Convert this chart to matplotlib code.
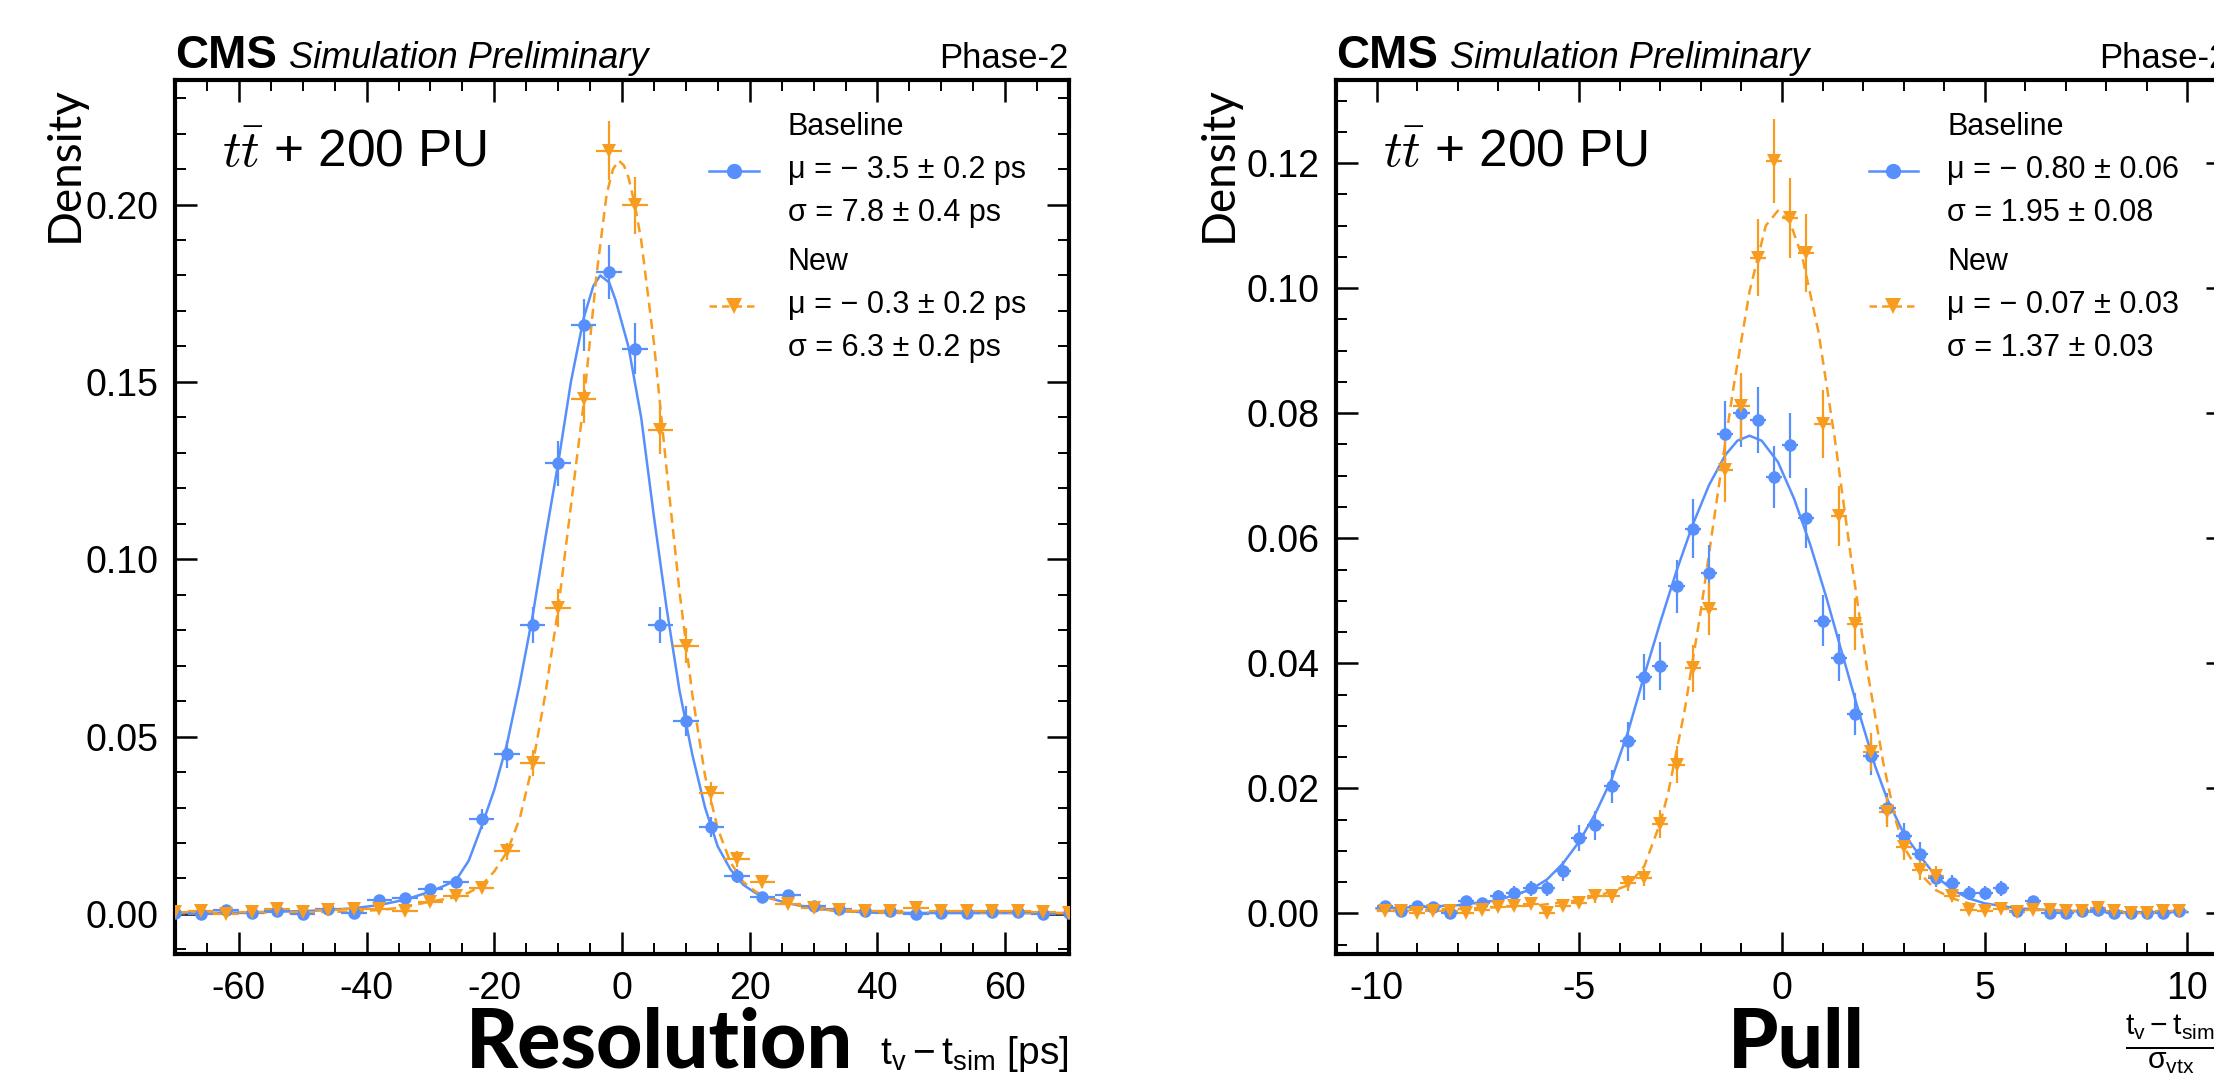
#Resolution and pull of vertex time, Baseline vs New (ttbar + 200 PU)
import numpy as np
import matplotlib
matplotlib.use("Agg")
from matplotlib import pyplot as plt
from matplotlib.lines import Line2D
from matplotlib.ticker import MultipleLocator, FormatStrFormatter

plt.rcParams['font.family'] = ['Liberation Sans', 'DejaVu Sans']
plt.rcParams['mathtext.fontset'] = 'custom'
plt.rcParams['mathtext.rm'] = 'Liberation Sans'
plt.rcParams['mathtext.it'] = 'Liberation Sans:italic'
plt.rcParams['mathtext.bf'] = 'Liberation Sans:bold'
plt.rcParams['mathtext.sf'] = 'Liberation Sans'
plt.rcParams['axes.unicode_minus'] = False

BLUE = '#5790fc'
ORANGE = '#f89c20'

#---------------- data: resolution (bins of 4 ps) ----------------
res_bin_width = 4.0
res_x = np.arange(-70, 71, 4)
res_base = [0.0002, 0.0000, 0.0011, 0.0002, 0.0009, 0.0001, 0.0013, 0.0002, 0.0038, 0.0044,
            0.0070, 0.0091, 0.0268, 0.0450, 0.0815, 0.1270, 0.1660, 0.1810, 0.1594, 0.0815,
            0.0544, 0.0244, 0.0107, 0.0049, 0.0054, 0.0023, 0.0013, 0.0007, 0.0007, 0.0000,
            0.0002, 0.0002, 0.0004, 0.0004, 0.0000, 0.0002]
res_base_err = [0.0003, 0.0002, 0.0006, 0.0003, 0.0005, 0.0002, 0.0006, 0.0003, 0.0011, 0.0012,
                0.0015, 0.0017, 0.0029, 0.0038, 0.0051, 0.0064, 0.0073, 0.0077, 0.0072, 0.0051,
                0.0042, 0.0028, 0.0019, 0.0013, 0.0013, 0.0009, 0.0006, 0.0005, 0.0005, 0.0002,
                0.0003, 0.0003, 0.0004, 0.0004, 0.0002, 0.0003]
res_new = [0.0004, 0.0007, 0.0000, 0.0004, 0.0013, 0.0004, 0.0010, 0.0013, 0.0013, 0.0007,
           0.0035, 0.0050, 0.0074, 0.0176, 0.0425, 0.0862, 0.1453, 0.2152, 0.1998, 0.1365,
           0.0756, 0.0340, 0.0154, 0.0090, 0.0028, 0.0016, 0.0011, 0.0009, 0.0009, 0.0016,
           0.0009, 0.0009, 0.0009, 0.0009, 0.0004, 0.0003]
res_new_err = [0.0004, 0.0005, 0.0002, 0.0004, 0.0006, 0.0004, 0.0006, 0.0006, 0.0006, 0.0005,
               0.0011, 0.0013, 0.0015, 0.0024, 0.0037, 0.0053, 0.0069, 0.0084, 0.0080, 0.0067,
               0.0049, 0.0033, 0.0022, 0.0017, 0.0010, 0.0007, 0.0006, 0.0005, 0.0005, 0.0007,
               0.0005, 0.0005, 0.0005, 0.0005, 0.0004, 0.0003]

# fitted curves
res_fit_x_base = [-70, -60, -50, -46, -42, -38, -34, -30, -28, -26, -24, -22, -20, -18, -16, -14,
                  -12, -10, -8, -6, -4.5, -3.4, -2, -1, 1, 3, 5, 7, 9, 11, 13, 15, 17, 19, 21, 23,
                  26, 30, 34, 40, 70]
res_fit_y_base = [0.0002, 0.0004, 0.0008, 0.0011, 0.0016, 0.0025, 0.0040, 0.0063, 0.0078, 0.0095,
                  0.0150, 0.0246, 0.0350, 0.0480, 0.0650, 0.0840, 0.1060, 0.1270, 0.1500, 0.1680,
                  0.1770, 0.1800, 0.1780, 0.1730, 0.1600, 0.1400, 0.1120, 0.0860, 0.0630, 0.0450,
                  0.0300, 0.0190, 0.0125, 0.0082, 0.0058, 0.0045, 0.0030, 0.0016, 0.0008, 0.0003,
                  0.0002]
res_fit_x_new = [-70, -50, -42, -38, -34, -30, -26, -24, -22, -20, -18, -16, -14, -12, -10, -8,
                 -6, -4, -2.4, -1.4, -0.5, 0.3, 1, 2, 3, 5, 7, 9, 11, 13, 15, 17, 19, 21, 23, 26,
                 30, 34, 40, 70]
res_fit_y_new = [0.0002, 0.0004, 0.0007, 0.0011, 0.0019, 0.0035, 0.0047, 0.0060, 0.0080, 0.0120,
                 0.0175, 0.0270, 0.0420, 0.0620, 0.0860, 0.1150, 0.1440, 0.1800, 0.2030, 0.2100,
                 0.2124, 0.2110, 0.2077, 0.2000, 0.1900, 0.1610, 0.1250, 0.0910, 0.0620, 0.0390,
                 0.0240, 0.0145, 0.0090, 0.0062, 0.0046, 0.0030, 0.0014, 0.0008, 0.0004, 0.0002]

#---------------- data: pull (bins of 0.4) ----------------
pull_bin_width = 0.4
pull_x = np.round(np.arange(-9.8, 9.81, 0.4), 1)
pull_base = [0.0011, 0.0003, 0.0012, 0.0010, 0.0000, 0.0020, 0.0017, 0.0027, 0.0032, 0.0040,
             0.0040, 0.0067, 0.0121, 0.0141, 0.0203, 0.0275, 0.0378, 0.0396, 0.0523, 0.0615,
             0.0545, 0.0766, 0.0800, 0.0789, 0.0698, 0.0749, 0.0632, 0.0468, 0.0409, 0.0319,
             0.0251, 0.0168, 0.0123, 0.0095, 0.0056, 0.0048, 0.0033, 0.0033, 0.0040, 0.0003,
             0.0019, 0.0001, 0.0000, 0.0003, 0.0005, 0.0000, 0.0000, 0.0000, 0.0000, 0.0003]
pull_base_err = [0.0006, 0.0003, 0.0007, 0.0006, 0.0002, 0.0008, 0.0008, 0.0010, 0.0011, 0.0012,
                 0.0012, 0.0016, 0.0021, 0.0023, 0.0027, 0.0031, 0.0037, 0.0038, 0.0043, 0.0047,
                 0.0044, 0.0053, 0.0054, 0.0053, 0.0050, 0.0052, 0.0048, 0.0041, 0.0038, 0.0034,
                 0.0030, 0.0025, 0.0021, 0.0019, 0.0014, 0.0013, 0.0011, 0.0011, 0.0012, 0.0003,
                 0.0008, 0.0002, 0.0002, 0.0003, 0.0004, 0.0002, 0.0002, 0.0002, 0.0002, 0.0003]
pull_new = [0.0004, 0.0003, 0.0000, 0.0004, 0.0004, 0.0000, 0.0005, 0.0010, 0.0012, 0.0015,
            0.0001, 0.0012, 0.0016, 0.0027, 0.0027, 0.0049, 0.0057, 0.0143, 0.0238, 0.0392,
            0.0487, 0.0709, 0.0811, 0.1049, 0.1204, 0.1112, 0.1056, 0.0783, 0.0635, 0.0463,
            0.0258, 0.0162, 0.0106, 0.0069, 0.0060, 0.0028, 0.0005, 0.0003, 0.0007, 0.0002,
            0.0005, 0.0005, 0.0003, 0.0003, 0.0008, 0.0003, 0.0000, 0.0000, 0.0003, 0.0003]
pull_new_err = [0.0004, 0.0003, 0.0002, 0.0004, 0.0004, 0.0002, 0.0004, 0.0006, 0.0007, 0.0007,
                0.0002, 0.0007, 0.0008, 0.0010, 0.0010, 0.0013, 0.0014, 0.0023, 0.0029, 0.0038,
                0.0042, 0.0051, 0.0054, 0.0062, 0.0067, 0.0064, 0.0062, 0.0054, 0.0048, 0.0041,
                0.0031, 0.0024, 0.0020, 0.0016, 0.0015, 0.0010, 0.0004, 0.0003, 0.0005, 0.0003,
                0.0004, 0.0004, 0.0003, 0.0003, 0.0005, 0.0003, 0.0002, 0.0002, 0.0003, 0.0003]

pull_fit_x_base = [-10, -9, -8, -7, -6.2, -5.8, -5.4, -5.0, -4.6, -4.2, -3.8, -3.4, -3.0, -2.6,
                   -2.2, -1.8, -1.4, -1.1, -0.8, -0.5, -0.1, 0.3, 0.7, 1.1, 1.5, 1.9, 2.3, 2.6,
                   3.0, 3.4, 3.8, 4.2, 4.6, 5.0, 5.8, 7.0, 8.0, 10.0]
pull_fit_y_base = [0.0008, 0.0010, 0.0013, 0.0021, 0.0038, 0.0054, 0.0080, 0.0115, 0.0160, 0.0215,
                   0.0290, 0.0380, 0.0466, 0.0548, 0.0622, 0.0685, 0.0733, 0.0756, 0.0764, 0.0756,
                   0.0722, 0.0663, 0.0589, 0.0504, 0.0412, 0.0321, 0.0235, 0.0182, 0.0128, 0.0092,
                   0.0059, 0.0038, 0.0024, 0.0016, 0.0008, 0.0004, 0.0002, 0.0002]
pull_fit_x_new = [-10, -9, -8, -7, -6, -5, -4.6, -4.2, -3.8, -3.4, -3.0, -2.8, -2.4, -2.0, -1.6,
                  -1.2, -0.8, -0.4, -0.1, 0.2, 0.5, 0.9, 1.3, 1.7, 2.1, 2.5, 2.8, 3.0, 3.4, 3.8,
                  4.2, 4.6, 5.0, 6.0, 7.0, 10.0]
pull_fit_y_new = [0.0005, 0.0006, 0.0007, 0.0010, 0.0013, 0.0021, 0.0027, 0.0035, 0.0045, 0.0075,
                  0.0145, 0.0195, 0.0325, 0.0485, 0.0665, 0.0840, 0.0995, 0.1100, 0.1124, 0.1105,
                  0.1050, 0.0930, 0.0760, 0.0570, 0.0390, 0.0240, 0.0150, 0.0107, 0.0064, 0.0037,
                  0.0024, 0.0016, 0.0011, 0.0006, 0.0004, 0.0003]

res_labels = ["Baseline\nμ = − 3.5 ± 0.2 ps\nσ = 7.8 ± 0.4 ps",
              "New\nμ = − 0.3 ± 0.2 ps\nσ = 6.3 ± 0.2 ps"]
pull_labels = ["Baseline\nμ = − 0.80 ± 0.06\nσ = 1.95 ± 0.08",
               "New\nμ = − 0.07 ± 0.03\nσ = 1.37 ± 0.03"]

#---------------- figure ----------------
fig = plt.figure(figsize=(22.14, 10.82), dpi=100)
ax1 = fig.add_axes([175/2214, 128/1082, 894/2214, 874/1082])
ax2 = fig.add_axes([1336/2214, 128/1082, 892/2214, 874/1082])


def draw_panel(ax, x, half, yb, eb, yn, en, fxb, fyb, fxn, fyn, labels):
    ax.plot(fxb, fyb, color=BLUE, lw=1.8, zorder=2)
    ax.plot(fxn, fyn, color=ORANGE, lw=1.8, ls=(0, (4, 2.5)), zorder=2)
    ax.errorbar(x, yb, xerr=half, yerr=eb, fmt='o', color=BLUE, ms=9, mew=0,
                elinewidth=1.6, capsize=4.5, capthick=1.6, zorder=3)
    ax.errorbar(x, yn, xerr=half, yerr=en, fmt='v', color=ORANGE, ms=10, mew=0,
                elinewidth=1.6, capsize=4.5, capthick=1.6, zorder=3)
    h1 = Line2D([], [], color=BLUE, lw=1.8, marker='o', ms=11, mew=0)
    h2 = Line2D([], [], color=ORANGE, lw=1.8, ls=(0, (3, 2)), marker='v', ms=12, mew=0)
    leg = ax.legend([h1, h2], labels, loc='upper left', bbox_to_anchor=(0.597, 0.963),
                    frameon=False, fontsize=22, handlelength=1.63, handletextpad=0.95,
                    borderpad=0, borderaxespad=0, labelspacing=0.65)
    for t in leg.get_texts():
        t.set_linespacing(1.55)

    # CMS style frame
    for s in ax.spines.values():
        s.set_linewidth(3)
    ax.tick_params(which='both', direction='in', top=True, right=True, labelsize=27)
    ax.tick_params(which='major', length=16, width=1.8, pad=12)
    ax.tick_params(which='minor', length=8, width=1.4)

    ax.text(0, 1.0137, 'CMS', transform=ax.transAxes, fontsize=33, fontweight='bold',
            va='baseline', ha='left')
    ax.annotate('Simulation Preliminary', xy=(0, 1), xycoords='axes fraction',
                xytext=(114*0.72, 12*0.72), textcoords='offset points', fontsize=26,
                style='italic', va='baseline', ha='left')
    ax.text(1, 1.0137, 'Phase-2', transform=ax.transAxes, fontsize=25,
            va='baseline', ha='right')
    ax.text(0.053, 0.9, r'$t\bar{t}$ + 200 PU', transform=ax.transAxes, fontsize=37,
            va='baseline', ha='left', math_fontfamily='cm')
    ax.set_ylabel('Density', family='Lato', fontsize=33, loc='top')


#1. resolution panel
draw_panel(ax1, res_x, res_bin_width/2, res_base, res_base_err, res_new, res_new_err,
           res_fit_x_base, res_fit_y_base, res_fit_x_new, res_fit_y_new, res_labels)
ax1.set_xlim(-70, 70)
ax1.set_ylim(-0.0113, 0.2351)
ax1.xaxis.set_major_locator(MultipleLocator(20))
ax1.xaxis.set_minor_locator(MultipleLocator(5))
ax1.yaxis.set_major_locator(MultipleLocator(0.05))
ax1.yaxis.set_minor_locator(MultipleLocator(0.01))
ax1.yaxis.set_major_formatter(FormatStrFormatter('%.2f'))
ax1.yaxis.set_label_coords(-0.1, 0.993)
ax1.set_xlabel(r'$\mathrm{t_{v} - t_{sim}}$ [ps]', fontsize=28, loc='right')
ax1.xaxis.set_label_coords(1.0, -0.092)

#2. pull panel
draw_panel(ax2, pull_x, pull_bin_width/2, pull_base, pull_base_err, pull_new, pull_new_err,
           pull_fit_x_base, pull_fit_y_base, pull_fit_x_new, pull_fit_y_new, pull_labels)
ax2.set_xlim(-11, 11)
ax2.set_ylim(-0.0065, 0.1333)
ax2.xaxis.set_major_locator(MultipleLocator(5))
ax2.xaxis.set_minor_locator(MultipleLocator(1))
ax2.yaxis.set_major_locator(MultipleLocator(0.02))
ax2.yaxis.set_minor_locator(MultipleLocator(0.005))
ax2.yaxis.set_major_formatter(FormatStrFormatter('%.2f'))
ax2.yaxis.set_label_coords(-0.108, 0.993)
ax2.text(0.885, -0.068, r'$\frac{\mathrm{t_{v} - t_{sim}}}{\mathrm{\sigma_{vtx}}}$',
         transform=ax2.transAxes, fontsize=31, va='top', ha='left')

#3. big slide labels
fig.text(660/2214, 1 - 1068/1082, 'Resolution', family='Lato', fontweight='black',
         fontsize=58, ha='center', va='baseline')
fig.text(1796/2214, 1 - 1068/1082, 'Pull', family='Lato', fontweight='black',
         fontsize=58, ha='center', va='baseline')

fig.savefig('out.png', dpi=100)
